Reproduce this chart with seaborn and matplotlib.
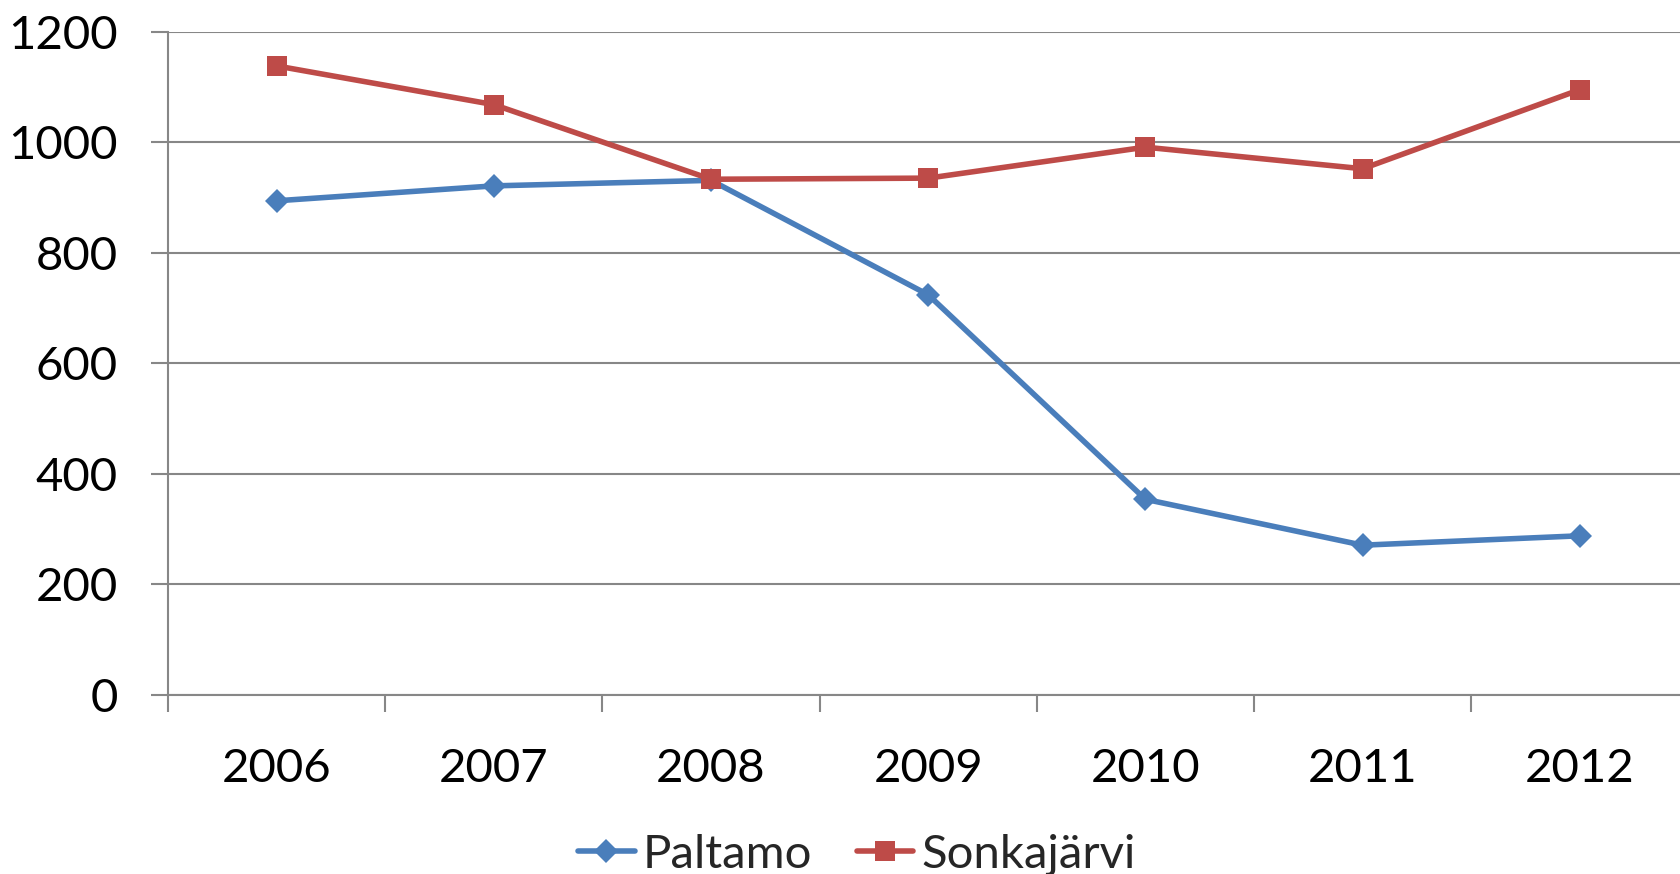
import matplotlib
matplotlib.use('Agg')
import matplotlib.pyplot as plt
import seaborn as sns
import pandas as pd
import numpy as np
from matplotlib.ticker import FixedLocator

years = ['2006', '2007', '2008', '2009', '2010', '2011', '2012']
paltamo = [894, 921, 931, 724, 354, 271, 288]
sonkajarvi = [1138, 1068, 933, 935, 991, 952, 1095]
series_names = ['Paltamo', 'Sonkajärvi']
colors = ['#4A7EBB', '#BE4B48']
y_ticks = [0, 200, 400, 600, 800, 1000, 1200]

sns.set_theme(style='white')
plt.rcParams['font.family'] = ['Lato', 'DejaVu Sans']

idx = list(range(len(years)))
df_p = pd.DataFrame({'idx': idx, 'value': paltamo})
df_s = pd.DataFrame({'idx': idx, 'value': sonkajarvi})

fig = plt.figure(figsize=(16.8, 8.74), dpi=100)
ax = fig.add_axes([0.1, 0.2048, 0.905, 0.759])

grid_c = '#878787'
ax.set_axisbelow(True)
ax.yaxis.grid(True, color=grid_c, lw=1.5)
ax.xaxis.grid(False)

sns.lineplot(data=df_p, x='idx', y='value', ax=ax, color=colors[0], lw=4,
             marker='D', markersize=12.5, markeredgewidth=0, label=series_names[0])
sns.lineplot(data=df_s, x='idx', y='value', ax=ax, color=colors[1], lw=4,
             marker='s', markersize=14.5, markeredgewidth=0, label=series_names[1])

ax.set_xlim(-0.5, len(years) - 0.5)
ax.set_ylim(0, 1200)
ax.set_yticks(y_ticks)
ax.set_yticklabels([str(v) for v in y_ticks])
ax.set_xticks(idx)
ax.set_xticklabels(years)
ax.xaxis.set_minor_locator(FixedLocator(np.arange(-0.5, len(years), 1.0)))
ax.set_xlabel('')
ax.set_ylabel('')

for s in ['top', 'right']:
    ax.spines[s].set_visible(False)
for s in ['left', 'bottom']:
    ax.spines[s].set_color(grid_c)
    ax.spines[s].set_linewidth(1.5)

ax.tick_params(axis='y', which='major', length=12, width=1.5, color=grid_c,
               direction='out', left=True, pad=24, labelsize=34, labelcolor='black')
ax.tick_params(axis='x', which='major', length=0, pad=38, labelsize=34, labelcolor='black')
ax.tick_params(axis='x', which='minor', length=12, width=1.5, color=grid_c,
               direction='out', bottom=True)

leg = ax.legend(loc='center', bbox_to_anchor=(0.51, 0.022), bbox_transform=fig.transFigure,
                ncol=2, frameon=False, fontsize=34, handlelength=1.2,
                handletextpad=0.17, columnspacing=0.94, borderpad=0, borderaxespad=0)

fig.savefig('out.png', dpi=100)
